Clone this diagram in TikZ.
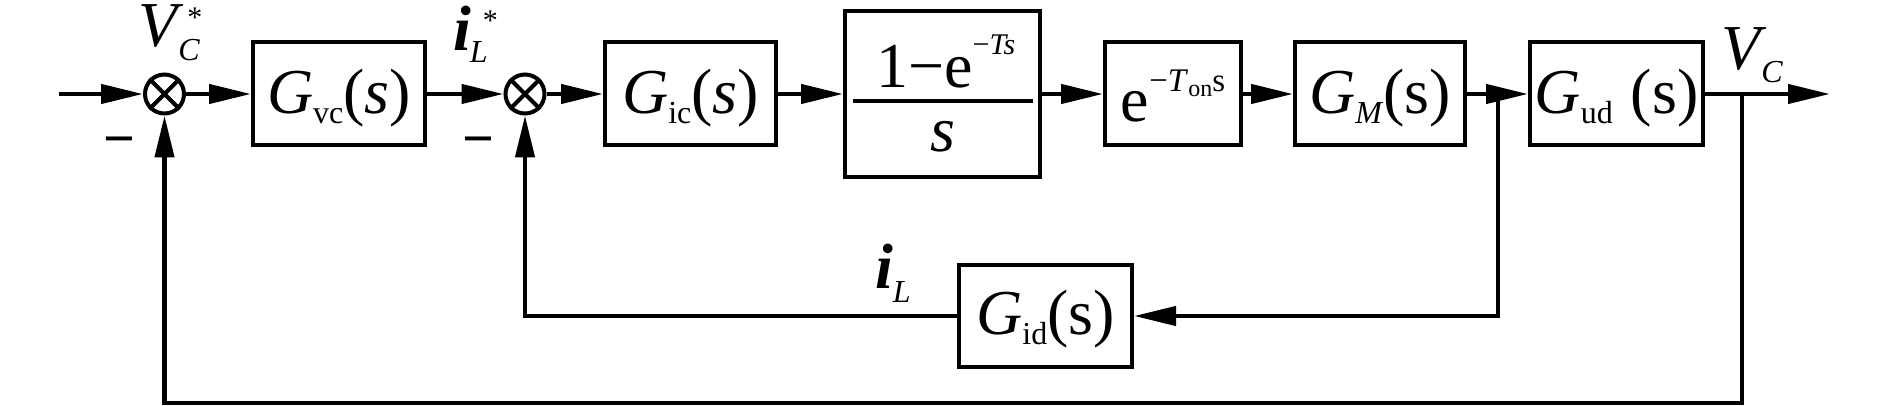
\documentclass[tikz,border=0pt]{standalone}
\usepackage{fontspec}
\setmainfont{Liberation Serif}
\usetikzlibrary{arrows.meta}
\newcommand{\mainf}{\fontsize{64}{70}\selectfont}
\newcommand{\subf}{\fontsize{32}{36}\selectfont}
\newcommand{\supf}{\fontsize{30}{34}\selectfont}
\newcommand{\expf}{\fontsize{33}{36}\selectfont}
\newcommand{\tinyf}{\fontsize{24}{26}\selectfont}
\newcommand{\lowsub}[1]{\raisebox{-10pt}{\subf #1}}
\begin{document}
\begin{tikzpicture}[x=1pt,y=-1pt,
  box/.style={draw, line width=4pt, inner sep=0pt, text height=40pt, text depth=0pt, font=\mainf},
  sumnode/.style={draw, circle, minimum size=39pt, inner sep=0pt, line width=4pt},
  arr/.style={-{Triangle[length=42pt,width=19pt]}, line width=4.4pt},
  lbl/.style={anchor=base west, inner sep=0pt, font=\mainf, text height=44pt}]
\useasboundingbox (0,0) rectangle (1889,406);
% nodes
\coordinate (in) at (59,94);
\node[sumnode] (s1) at (164.5,94) {};
\draw[line width=4pt] (s1.north east) -- (s1.south west) (s1.north west) -- (s1.south east);
\node[box, minimum width=172pt, minimum height=103pt] (gvc) at (339,94) {\textit{G}\lowsub{vc}(\textit{s})};
\node[sumnode] (s2) at (525,94) {};
\draw[line width=4pt] (s2.north east) -- (s2.south west) (s2.north west) -- (s2.south east);
\node[box, minimum width=171pt, minimum height=103pt] (gic) at (690.5,94) {\textit{G}\lowsub{ic}(\textit{s})};
\node[box, minimum width=195pt, minimum height=166pt] (frac) at (942.5,94) {};
\node[box, text height=56pt, minimum width=136pt, minimum height=103pt] (dly) at (1173,94) {e\raisebox{30pt}{\expf −\textit{T}\raisebox{-5pt}{\tinyf on}s}};
\node[box, minimum width=170pt, minimum height=103pt] (gm) at (1380,94) {\textit{G}\lowsub{\textit{M}}(s)};
\node[box, minimum width=173pt, minimum height=103pt] (gud) at (1616.5,94) {\textit{G}\lowsub{ud}\hspace{18pt}(s)};
\node[box, minimum width=173pt, minimum height=102pt, text height=36pt] (gid) at (1045.5,316) {\textit{G}\lowsub{id}(s)};
\coordinate (b1) at (1498,94);
\coordinate (b2) at (1742,94);
\coordinate (out) at (1830,94);
\coordinate (c2) at (1742,403);
% fraction contents
\node[lbl] (num) at (876,88) {1−e\raisebox{33pt}{\supf −\textit{Ts}}};
\draw[line width=4pt] (853,101) -- (1033,101);
\node[anchor=base, inner sep=0pt, font=\mainf] (den) at (943,152) {\textit{s}};
% connectors
\draw[arr] (in) -- (s1);
\draw[arr] (s1) -- (gvc);
\draw[arr] (gvc) -- (s2);
\draw[arr] (s2) -- (gic);
\draw[arr] (gic) -- (frac);
\draw[arr] (frac) -- (dly);
\draw[arr] (dly) -- (gm);
\draw[arr] (gm) -- (gud);
\draw[arr] (gud) -- (out);
\draw[arr] (b1) |- (gid);
\draw[arr] (gid) -| (s2);
\draw[arr] (b2) -- (c2) -| (s1);
% signs and labels
\node[anchor=base, inner sep=0pt, font=\fontsize{56}{60}\selectfont\bfseries] (m1) at (119,158) {−};
\node[anchor=base, inner sep=0pt, font=\fontsize{56}{60}\selectfont\bfseries] (m2) at (478,158) {−};
\node[lbl] (lvcs) at (138,47) {\textit{V}\rlap{\kern4pt\raisebox{19pt}{\supf *}}\kern-5pt\raisebox{-14pt}{\subf\textit{C}}};
\node[lbl] (lils) at (453,51) {\textbf{\textit{i}}\rlap{\kern12pt\raisebox{20pt}{\supf *}}\kern-1pt\raisebox{-12pt}{\subf\textit{L}}};
\node[lbl] (lil) at (875,288) {\textbf{\textit{i}}\raisebox{-14pt}{\subf\textit{L}}};
\node[lbl] (lvc) at (1721,70) {\textit{V}\kern-5pt\raisebox{-13pt}{\subf\textit{C}}};
\end{tikzpicture}
\end{document}
